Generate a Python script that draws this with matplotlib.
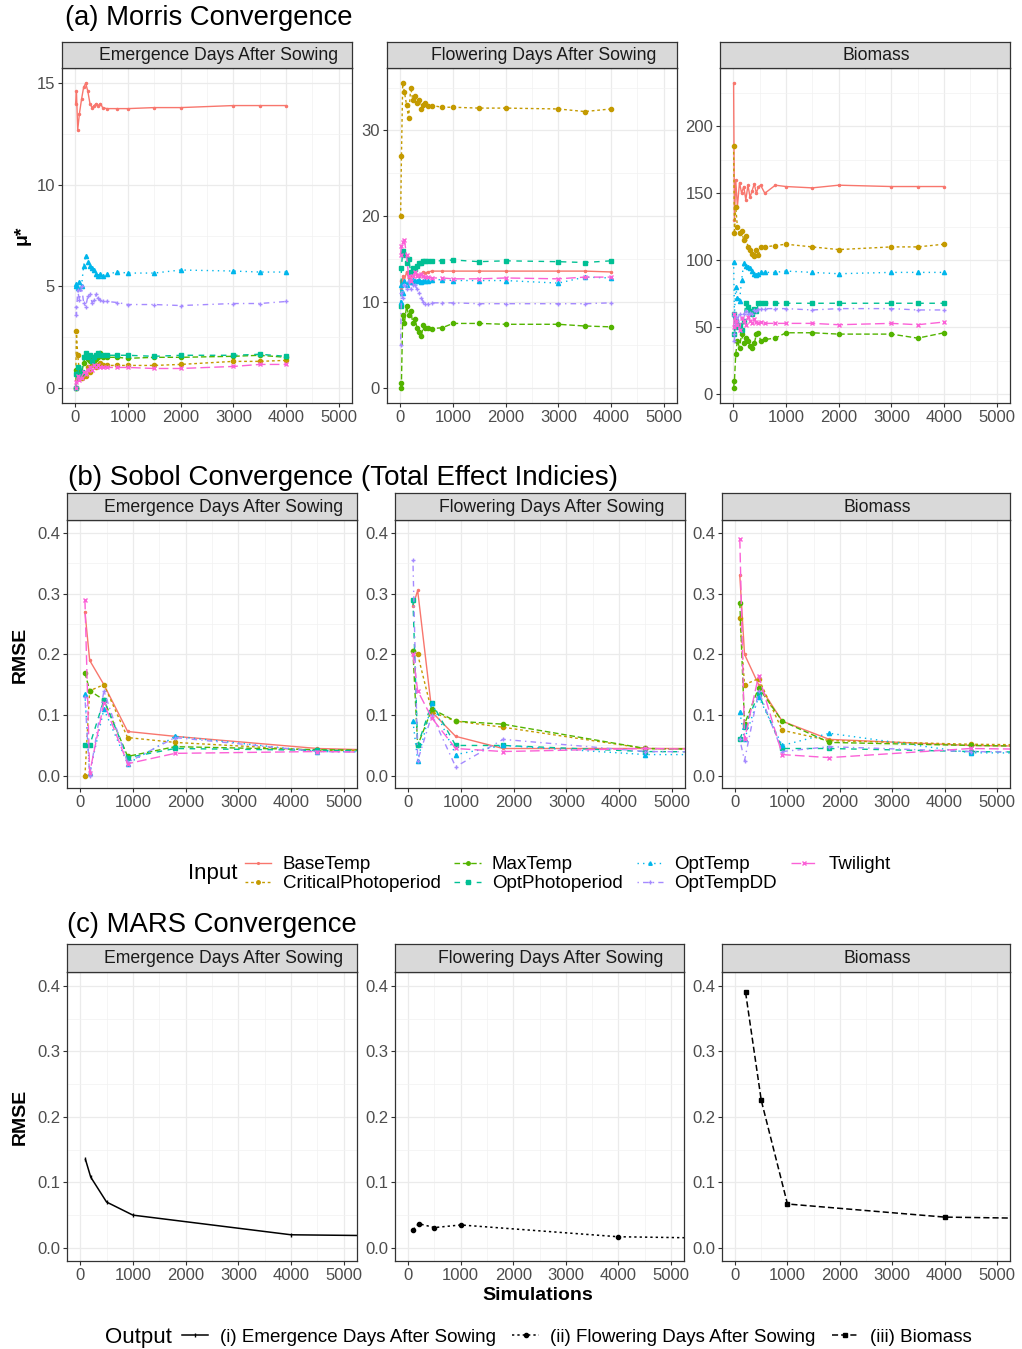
import numpy as np
import matplotlib.pyplot as plt
from matplotlib.lines import Line2D
from matplotlib.ticker import MultipleLocator, FormatStrFormatter

plt.rcParams['font.family'] = ['Liberation Sans', 'DejaVu Sans']

W, H = 1022, 1349

inputs = ['BaseTemp', 'CriticalPhotoperiod', 'MaxTemp', 'OptPhotoperiod',
          'OptTemp', 'OptTempDD', 'Twilight']
colors = ['#F8766D', '#C49A00', '#53B400', '#00C094', '#00B6EB', '#A58AFF', '#FB61D7']
styles = ['-', (0, (2, 2)), (0, (4, 2)), (0, (4, 4)), (0, (1, 3)), (0, (1, 3, 4, 3)), (0, (7, 3))]
marks = ['.', 'o', 'o', 's', '^', '+', 'x']

outputs = ['Emergence Days After Sowing', 'Flowering Days After Sowing', 'Biomass']

# ---- Morris mu* vs simulations (rows follow `inputs`)
morris_x = [8, 24, 48, 80, 120, 160, 200, 240, 280, 320, 360, 400, 440, 480, 520,
            600, 800, 1000, 1500, 2000, 3000, 3500, 4000]
morris_emergence = [
    [14.0, 14.6, 12.7, 13.5, 14.2, 14.8, 15.0, 14.6, 14.0, 13.8, 13.9, 14.0, 13.9, 14.0, 13.8,
     13.75, 13.75, 13.75, 13.8, 13.8, 13.9, 13.9, 13.9],
    [0.0, 2.8, 1.6, 0.8, 0.5, 0.7, 0.6, 1.0, 0.8, 1.1, 1.2, 1.0, 1.1, 1.2, 1.1,
     1.1, 1.1, 1.1, 1.1, 1.15, 1.3, 1.3, 1.35],
    [0.0, 0.9, 0.5, 0.9, 0.7, 1.2, 1.6, 1.4, 1.3, 1.5, 1.2, 1.4, 1.5, 1.7, 1.5,
     1.5, 1.5, 1.45, 1.5, 1.5, 1.55, 1.6, 1.5],
    [0.0, 0.7, 1.0, 0.6, 0.8, 1.5, 1.7, 1.5, 1.6, 1.3, 1.5, 1.6, 1.7, 1.6, 1.6,
     1.6, 1.6, 1.6, 1.55, 1.6, 1.6, 1.65, 1.55],
    [5.0, 5.1, 4.9, 5.2, 5.0, 6.0, 6.5, 6.2, 6.0, 5.9, 5.8, 5.6, 5.5, 5.6, 5.5,
     5.6, 5.7, 5.65, 5.65, 5.8, 5.75, 5.7, 5.7],
    [4.0, 3.6, 4.8, 4.3, 5.0, 4.2, 4.0, 4.5, 4.6, 4.2, 4.3, 4.6, 4.4, 4.3, 4.25,
     4.25, 4.2, 4.1, 4.1, 4.05, 4.15, 4.15, 4.25],
    [0.0, 0.3, 0.6, 0.4, 0.5, 0.8, 0.7, 0.9, 1.0, 0.9, 1.1, 1.0, 1.1, 1.0, 1.0,
     1.0, 1.0, 1.0, 0.95, 0.95, 1.05, 1.15, 1.15],
]
morris_flowering = [
    [12.5, 11.5, 13.0, 12.5, 13.5, 12.8, 13.2, 13.0, 13.5, 13.2, 13.0, 13.3, 13.5, 13.4, 13.5,
     13.6, 13.6, 13.6, 13.6, 13.6, 13.6, 13.6, 13.5],
    [20.0, 27.0, 35.5, 34.5, 33.0, 31.5, 35.0, 33.5, 34.0, 33.2, 33.5, 32.5, 33.0, 33.2, 32.8,
     32.9, 32.7, 32.7, 32.6, 32.6, 32.5, 32.2, 32.5],
    [0.0, 0.6, 8.5, 7.5, 9.5, 8.5, 9.0, 7.5, 8.0, 7.0, 6.5, 6.0, 7.3, 7.0, 7.0,
     6.9, 7.0, 7.5, 7.5, 7.4, 7.4, 7.2, 7.1],
    [9.5, 14.0, 16.0, 15.5, 14.5, 15.0, 13.5, 14.0, 13.8, 14.2, 14.5, 14.6, 14.8, 14.8, 14.8,
     14.8, 14.8, 14.9, 14.7, 14.8, 14.7, 14.6, 14.8],
    [10.0, 12.0, 11.0, 12.5, 12.0, 12.5, 12.3, 12.6, 12.5, 12.4, 12.6, 12.3, 12.5, 12.4, 12.5,
     12.6, 12.6, 12.5, 12.5, 12.5, 12.2, 12.9, 12.8],
    [5.0, 11.0, 10.5, 12.0, 11.5, 12.5, 11.5, 12.0, 12.0, 11.5, 11.0, 10.5, 10.0, 9.8, 9.8,
     9.9, 9.9, 9.9, 9.8, 9.8, 9.8, 9.8, 9.9],
    [15.5, 16.5, 17.0, 17.2, 15.5, 13.0, 12.5, 13.0, 13.5, 13.0, 13.2, 13.3, 13.0, 12.9, 12.9,
     12.8, 12.8, 12.7, 12.7, 12.8, 12.7, 12.9, 12.9],
]
morris_biomass = [
    [232, 130, 160, 140, 158, 150, 155, 145, 156, 147, 152, 157, 150, 155, 156,
     150, 156, 155, 154, 156, 155, 155, 155],
    [185, 120, 140, 125, 120, 122, 115, 118, 110, 108, 105, 103, 108, 104, 110,
     110, 111, 112, 110, 108, 110, 110, 112],
    [5, 10, 30, 40, 35, 45, 38, 42, 40, 36, 35, 38, 45, 46, 40,
     41, 42, 46, 46, 45, 45, 42, 46],
    [60, 45, 55, 50, 52, 48, 55, 68, 65, 62, 60, 64, 62, 68, 68,
     68, 68, 68, 68, 68, 68, 68, 68],
    [99, 60, 80, 72, 70, 85, 98, 96, 95, 94, 92, 90, 89, 90, 91,
     91, 91, 92, 91, 90, 91, 91, 91],
    [45, 40, 58, 55, 60, 57, 60, 62, 60, 61, 60, 63, 62, 64, 64,
     64, 64, 64, 63, 64, 64, 63, 63],
    [50, 60, 55, 52, 48, 57, 55, 52, 58, 55, 53, 56, 54, 53, 54,
     53, 53, 53, 53, 52, 53, 52, 54],
]

# ---- Sobol total effect RMSE
sobol_x = [90, 180, 450, 900, 1800, 4500, 9000]
sobol_emergence = [
    [0.27, 0.19, 0.15, 0.073, 0.065, 0.045, 0.035],
    [0.0, 0.14, 0.15, 0.063, 0.055, 0.042, 0.04],
    [0.17, 0.14, 0.125, 0.032, 0.048, 0.043, 0.04],
    [0.05, 0.05, 0.125, 0.03, 0.045, 0.042, 0.038],
    [0.135, 0.005, 0.11, 0.02, 0.065, 0.04, 0.038],
    [0.13, 0.0, 0.14, 0.022, 0.063, 0.04, 0.036],
    [0.29, 0.005, 0.12, 0.02, 0.037, 0.04, 0.035],
]
sobol_flowering = [
    [0.28, 0.305, 0.105, 0.065, 0.045, 0.045, 0.045],
    [0.205, 0.2, 0.105, 0.09, 0.08, 0.045, 0.04],
    [0.205, 0.05, 0.11, 0.09, 0.085, 0.045, 0.04],
    [0.29, 0.05, 0.12, 0.05, 0.05, 0.04, 0.038],
    [0.09, 0.025, 0.12, 0.035, 0.05, 0.035, 0.035],
    [0.355, 0.025, 0.10, 0.015, 0.06, 0.04, 0.038],
    [0.2, 0.14, 0.095, 0.045, 0.04, 0.045, 0.04],
]
sobol_biomass = [
    [0.33, 0.2, 0.15, 0.09, 0.06, 0.05, 0.045],
    [0.26, 0.15, 0.16, 0.075, 0.058, 0.052, 0.048],
    [0.285, 0.085, 0.145, 0.09, 0.055, 0.05, 0.045],
    [0.06, 0.08, 0.135, 0.045, 0.045, 0.04, 0.036],
    [0.105, 0.06, 0.13, 0.05, 0.07, 0.038, 0.036],
    [0.06, 0.025, 0.14, 0.04, 0.048, 0.04, 0.036],
    [0.39, 0.06, 0.165, 0.035, 0.03, 0.045, 0.04],
]

# ---- MARS RMSE
mars_x = [100, 200, 500, 1000, 4000, 10000]
mars_emergence = [0.135, 0.108, 0.07, 0.05, 0.02, 0.015]
mars_flowering = [0.028, 0.037, 0.031, 0.035, 0.017, 0.01]
mars_biomass_x = [200, 500, 1000, 4000, 10000]
mars_biomass = [0.39, 0.225, 0.067, 0.047, 0.04]
mars_labels = ['(i) Emergence Days After Sowing', '(ii) Flowering Days After Sowing',
               '(iii) Biomass']
mars_styles = ['-', (0, (1.5, 2)), (0, (4, 2))]
mars_marks = ['|', 'o', 's']

fig = plt.figure(figsize=(W / 100, H / 100), dpi=100)


def panel(x0, x1, strip_top, top, bottom, label):
    ax = fig.add_axes([x0 / W, 1 - bottom / H, (x1 - x0) / W, (bottom - top) / H])
    for s in ax.spines.values():
        s.set_color('#333333')
        s.set_linewidth(0.9)
    ax.grid(which='major', color='#EBEBEB', lw=0.9)
    ax.grid(which='minor', color='#F2F2F2', lw=0.5)
    ax.set_axisbelow(True)
    ax.tick_params(which='major', length=3, color='#333333', labelcolor='#4D4D4D',
                   labelsize=12, pad=2)
    ax.tick_params(which='minor', length=0)
    ax.set_xlim(-250, 5250)
    ax.xaxis.set_major_locator(MultipleLocator(1000))
    ax.xaxis.set_minor_locator(MultipleLocator(500))
    sax = fig.add_axes([x0 / W, 1 - top / H, (x1 - x0) / W, (top - strip_top) / H])
    sax.set_facecolor('#D9D9D9')
    sax.set_xticks([])
    sax.set_yticks([])
    for s in sax.spines.values():
        s.set_color('#333333')
        s.set_linewidth(0.9)
    sax.text(0.54, 0.48, label, transform=sax.transAxes, ha='center', va='center',
             fontsize=12.7, color='#1A1A1A')
    return ax


# ---------------- (a) Morris
fig.text(65 / W, 1 - 18 / H, '(a) Morris Convergence', fontsize=19.7, va='center')
a_cols = [(62, 352), (387, 677), (720, 1010)]
a_data = [morris_emergence, morris_flowering, morris_biomass]
a_major = [5, 10, 50]
for (x0, x1), rows, lab, step in zip(a_cols, a_data, outputs, a_major):
    ax = panel(x0, x1, 42, 68, 403, lab)
    for i, vals in enumerate(rows):
        ax.plot(morris_x, vals, color=colors[i], ls=styles[i], lw=1.0,
                marker=marks[i], ms=3)
    ax.yaxis.set_major_locator(MultipleLocator(step))
    ax.yaxis.set_minor_locator(MultipleLocator(step / 2))
fig.text(22 / W, 1 - 235 / H, 'μ*', rotation=90, fontsize=14, fontweight='bold',
         ha='center', va='center')

# ---------------- (b) Sobol
fig.text(68 / W, 1 - 478 / H, '(b) Sobol Convergence (Total Effect Indicies)',
         fontsize=20, va='center')
b_cols = [(67, 357), (395, 685), (722, 1010)]
b_data = [sobol_emergence, sobol_flowering, sobol_biomass]
for (x0, x1), rows, lab in zip(b_cols, b_data, outputs):
    ax = panel(x0, x1, 493, 520, 788, lab)
    for i, vals in enumerate(rows):
        ax.plot(sobol_x, vals, color=colors[i], ls=styles[i], lw=1.0,
                marker=marks[i], ms=3)
    ax.set_ylim(-0.02, 0.421)
    ax.yaxis.set_major_locator(MultipleLocator(0.1))
    ax.yaxis.set_minor_locator(MultipleLocator(0.05))
    ax.yaxis.set_major_formatter(FormatStrFormatter('%.1f'))
fig.text(20 / W, 1 - 655 / H, 'RMSE', rotation=90, fontsize=14, fontweight='bold',
         ha='center', va='center')

handles = [Line2D([], [], color=colors[i], ls=styles[i], lw=1.0, marker=marks[i], ms=2.5)
           for i in range(len(inputs))]
fig.text(188 / W, 1 - 874 / H, 'Input', fontsize=16, va='center')
fig.legend(handles, inputs, ncol=4, loc='center left', bbox_to_anchor=(245 / W, 1 - 874 / H),
           frameon=False, fontsize=13.5, handlelength=1.4, handletextpad=0.6,
           columnspacing=0.75, labelspacing=0.1, borderpad=0, borderaxespad=0)

# ---------------- (c) MARS
fig.text(67 / W, 1 - 925 / H, '(c) MARS Convergence', fontsize=19.8, va='center')
c_cols = [(67, 357), (395, 684), (722, 1010)]
c_x = [mars_x, mars_x, mars_biomass_x]
c_y = [mars_emergence, mars_flowering, mars_biomass]
for k, ((x0, x1), lab) in enumerate(zip(c_cols, outputs)):
    ax = panel(x0, x1, 944, 972, 1261, lab)
    ax.plot(c_x[k], c_y[k], color='black', ls=mars_styles[k], lw=1.1,
            marker=mars_marks[k], ms=3)
    ax.set_ylim(-0.02, 0.421)
    ax.yaxis.set_major_locator(MultipleLocator(0.1))
    ax.yaxis.set_minor_locator(MultipleLocator(0.05))
    ax.yaxis.set_major_formatter(FormatStrFormatter('%.1f'))
fig.text(20 / W, 1 - 1117 / H, 'RMSE', rotation=90, fontsize=14, fontweight='bold',
         ha='center', va='center')
fig.text(538 / W, 1 - 1295 / H, 'Simulations', fontsize=14, fontweight='bold',
         ha='center', va='center')

mhandles = [Line2D([], [], color='black', ls=mars_styles[k], lw=1.1, marker=mars_marks[k], ms=3)
            for k in range(3)]
fig.text(105 / W, 1 - 1337 / H, 'Output', fontsize=16, va='center')
fig.legend(mhandles, mars_labels, ncol=3, loc='center left',
           bbox_to_anchor=(182 / W, 1 - 1337 / H), frameon=False, fontsize=13.5,
           handlelength=1.4, handletextpad=0.6, columnspacing=0.9,
           borderpad=0, borderaxespad=0)

fig.savefig('out.png', dpi=100)
